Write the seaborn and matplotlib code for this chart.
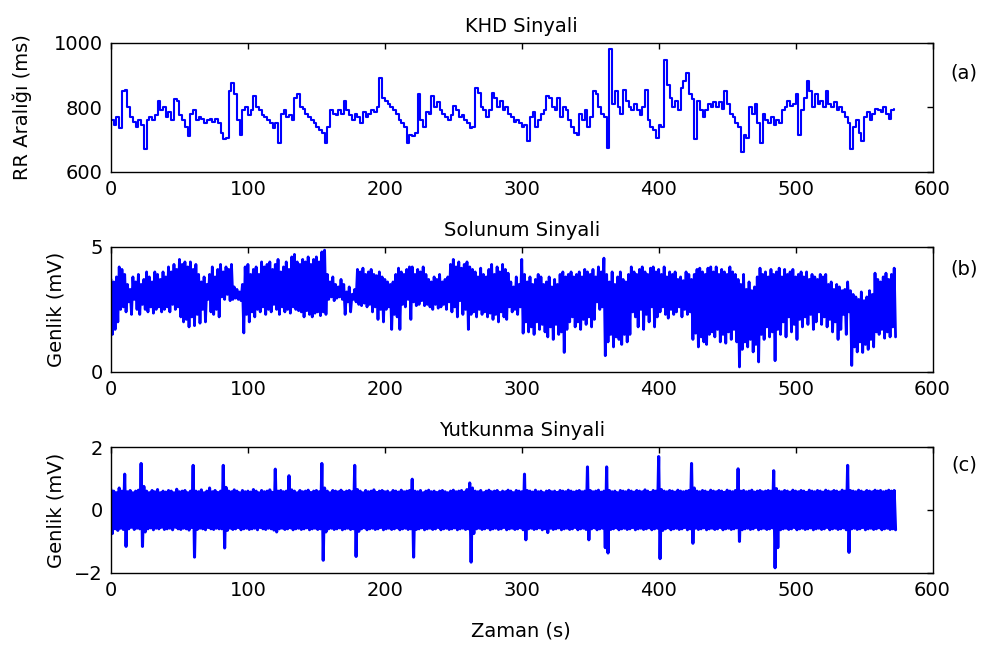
import numpy as np
import pandas as pd
import matplotlib
matplotlib.use("Agg")
import matplotlib.pyplot as plt
import seaborn as sns

# ---------------- data ----------------
# (a) RR interval (ms), one value every 2 s starting at t = 0
rr_ms = [
    760, 745, 770, 735, 850, 855, 800, 770, 755, 740,
    760, 745, 672, 760, 770, 760, 775, 820, 790, 800,
    770, 785, 760, 825, 820, 775, 760, 740, 710, 780,
    790, 760, 770, 765, 750, 760, 765, 755, 765, 750,
    720, 700, 705, 850, 875, 840, 760, 715, 790, 800,
    775, 790, 835, 800, 790, 775, 770, 760, 750, 735,
    750, 690, 780, 790, 770, 775, 760, 830, 840, 800,
    795, 780, 770, 760, 750, 740, 730, 720, 690, 740,
    790, 780, 775, 790, 780, 820, 790, 775, 760, 780,
    770, 750, 785, 770, 780, 790, 785, 800, 890, 830,
    820, 810, 800, 790, 780, 760, 750, 740, 690, 715,
    710, 720, 840, 760, 740, 785, 780, 835, 800, 815,
    790, 780, 770, 760, 775, 805, 790, 770, 775, 760,
    750, 735, 740, 860, 845, 800, 790, 770, 790, 845,
    830, 800, 820, 790, 800, 780, 770, 755, 760, 750,
    740, 745, 695, 770, 785, 740, 760, 780, 790, 835,
    830, 800, 790, 830, 770, 800, 790, 760, 740, 720,
    715, 780, 760, 790, 740, 770, 850, 840, 800, 780,
    770, 675, 982, 810, 850, 800, 780, 855, 820, 800,
    790, 810, 790, 775, 800, 855, 760, 740, 730, 705,
    745, 740, 945, 870, 830, 800, 820, 790, 860, 880,
    905, 840, 825, 700, 820, 790, 770, 790, 810, 800,
    815, 800, 815, 795, 850, 810, 780, 770, 750, 740,
    660, 715, 705, 800, 780, 810, 750, 690, 780, 760,
    750, 770, 745, 760, 750, 790, 800, 820, 805, 810,
    840, 715, 790, 830, 880, 850, 800, 840, 810, 820,
    800, 850, 810, 800, 815, 790, 800, 785, 770, 750,
    670, 740, 760, 720, 695, 770, 785, 760, 780, 795,
    790, 785, 800, 780, 765, 790, 795,
]

# (b) respiration: local maxima (even seconds) and minima (odd seconds), mV
resp_peaks = [
    3.7, 3.6, 3.8, 4.2, 4.1, 3.9, 3.5, 3.3, 3.8, 3.6,
    3.9, 3.5, 3.7, 4.0, 3.8, 3.6, 4.0, 3.9, 3.7, 4.0,
    3.8, 4.2, 4.0, 4.3, 4.1, 4.5, 4.3, 4.4, 4.2, 4.4,
    4.1, 4.3, 3.9, 3.6, 3.8, 3.5, 3.9, 4.2, 3.8, 4.1,
    4.3, 4.0, 4.2, 4.1, 4.3, 3.4, 3.3, 3.2, 3.5, 4.2,
    4.3, 3.9, 4.1, 4.2, 3.9, 4.4, 4.2, 4.3, 4.4, 4.1,
    4.3, 4.5, 4.0, 4.2, 4.4, 4.1, 4.6, 4.7, 4.4, 4.3,
    4.5, 4.4, 4.6, 4.3, 4.5, 4.6, 4.4, 4.8, 4.87, 3.9,
    3.6, 3.8, 3.5, 3.4, 3.7, 3.5, 3.2, 3.4, 3.1, 3.3,
    4.1, 4.0, 4.15, 3.9, 4.0, 4.1, 3.9, 3.85, 4.0, 3.8,
    3.7, 3.6, 3.5, 3.6, 3.9, 4.15, 4.0, 3.9, 4.1, 4.2,
    4.2, 3.9, 4.1, 4.0, 4.2, 3.9, 3.7, 3.6, 3.8, 3.7,
    3.9, 3.6, 3.7, 3.8, 4.3, 4.5, 4.2, 4.4, 4.15, 4.3,
    4.4, 4.2, 4.1, 4.0, 3.8, 4.15, 3.9, 3.8, 4.1, 4.3,
    3.9, 4.2, 4.0, 4.3, 4.1, 3.95, 3.6, 3.4, 3.8, 3.5,
    4.5, 3.9, 3.6, 3.8, 3.5, 3.7, 3.9, 3.8, 3.5, 3.6,
    3.8, 3.4, 3.7, 3.5, 3.9, 4.0, 3.8, 3.9, 4.0, 3.8,
    3.9, 4.0, 3.8, 4.1, 4.0, 3.9, 4.1, 3.8, 4.2, 4.0,
    4.55, 3.9, 3.6, 4.0, 3.5, 3.8, 4.0, 3.7, 3.6, 3.9,
    4.2, 4.0, 3.9, 4.1, 4.2, 4.0, 3.9, 4.15, 4.2, 4.0,
    4.1, 3.9, 4.2, 3.8, 4.0, 3.9, 4.0, 3.7, 3.8, 3.65,
    4.0, 3.9, 3.7, 3.9, 4.1, 4.15, 4.0, 3.9, 4.15, 4.2,
    4.0, 4.2, 3.9, 4.1, 4.0, 3.9, 4.2, 4.0, 3.9, 3.7,
    3.5, 3.9, 3.3, 3.6, 3.25, 3.4, 3.8, 4.15, 3.9, 4.0,
    3.8, 4.1, 3.9, 4.0, 4.15, 3.8, 4.1, 3.9, 4.0, 4.1,
    3.8, 3.9, 4.0, 3.8, 4.0, 3.7, 3.9, 3.8, 3.7, 3.9,
    3.8, 3.9, 3.5, 3.6, 3.3, 3.5, 3.4, 3.25, 3.3, 3.6,
    3.25, 3.1, 3.0, 2.9, 3.2, 2.85, 3.0, 3.25, 3.1, 3.95,
    3.7, 3.6, 3.8, 3.95, 3.7, 3.9, 4.15,
]
resp_troughs = [
    1.5, 1.7, 2.0, 2.5, 2.6, 2.4, 2.8, 2.3, 2.9, 2.5,
    2.3, 2.7, 2.5, 2.4, 2.6, 2.35, 2.5, 2.6, 2.4, 2.5,
    2.6, 2.4, 2.7, 2.5, 2.6, 2.2, 2.0, 2.1, 1.8, 2.2,
    1.85, 2.3, 1.95, 2.5, 2.0, 2.9, 2.4, 2.3, 2.5, 2.2,
    3.0, 2.9, 3.1, 2.85, 2.9, 2.95, 2.9, 2.85, 1.56, 2.3,
    2.0, 2.4, 2.2, 2.5, 2.4, 2.6, 2.3, 2.5, 2.4, 2.7,
    2.5, 2.3, 2.6, 2.4, 2.5, 2.35, 2.6, 2.5, 2.45, 2.4,
    2.2, 2.45, 2.3, 2.2, 2.35, 2.4, 2.25, 2.4, 2.3, 2.9,
    3.0, 2.85, 2.95, 3.0, 2.9, 2.3, 2.8, 2.4, 2.9, 2.8,
    2.7, 2.65, 2.75, 2.6, 2.7, 2.4, 2.6, 2.1, 2.5, 2.0,
    2.5, 2.6, 1.7, 2.3, 2.2, 1.7, 2.7, 2.6, 2.9, 2.1,
    2.8, 2.65, 2.7, 2.85, 2.65, 2.7, 2.6, 2.5, 2.7, 2.55,
    2.6, 2.7, 2.5, 2.8, 2.4, 2.6, 2.2, 2.85, 2.3, 2.5,
    1.7, 2.3, 2.4, 2.2, 2.5, 2.3, 2.4, 2.2, 2.35, 2.1,
    2.3, 2.0, 2.4, 2.2, 2.1, 2.6, 2.4, 2.5, 2.3, 2.6,
    1.55, 2.0, 1.6, 1.8, 1.5, 2.0, 1.7, 1.9, 1.6, 1.4,
    1.8, 1.3, 1.9, 1.5, 1.6, 0.78, 1.7, 2.0, 2.2, 1.8,
    2.0, 1.7, 2.1, 1.9, 2.2, 1.8, 2.1, 2.8, 2.5, 2.6,
    0.65, 1.2, 1.5, 1.0, 1.4, 1.3, 1.1, 1.5, 1.2, 1.5,
    2.4, 2.2, 1.8, 2.5, 1.7, 2.3, 2.0, 2.6, 1.8, 2.2,
    2.4, 2.6, 2.3, 2.15, 2.5, 2.3, 2.4, 2.6, 2.2, 2.5,
    2.3, 2.4, 1.3, 1.55, 1.0, 1.4, 1.2, 1.1, 1.5, 1.6,
    1.4, 1.7, 1.2, 1.5, 1.15, 1.6, 1.3, 1.7, 1.2, 0.2,
    0.9, 1.2, 1.0, 1.3, 0.8, 1.1, 0.4, 1.5, 1.3, 1.8,
    1.4, 1.6, 0.45, 1.7, 1.5, 2.0, 1.4, 2.2, 1.6, 1.9,
    1.3, 2.1, 1.8, 2.2, 1.9, 2.3, 1.7, 2.0, 2.4, 1.9,
    2.2, 1.8, 2.1, 1.6, 2.0, 1.3, 1.7, 2.3, 1.5, 2.4,
    0.26, 1.0, 0.8, 1.2, 0.78, 1.1, 0.9, 1.3, 1.0, 1.6,
    1.5, 1.7, 1.35, 1.6, 1.4, 1.8, 1.4,
]

# (c) swallowing: local maxima (even seconds) and minima (odd seconds), mV
swal_peaks = [
    0.65, 0.6, 0.55, 0.7, 0.6, 1.14, 0.58, 0.62, 0.55, 0.6,
    0.63, 1.48, 0.75, 0.6, 0.55, 0.62, 0.58, 0.65, 0.55, 0.6,
    0.57, 0.62, 0.6, 0.55, 0.66, 0.58, 0.6, 0.62, 0.55, 0.6,
    1.42, 0.6, 0.58, 0.64, 0.55, 0.6, 0.7, 0.58, 0.62, 0.56,
    0.6, 1.42, 0.72, 0.6, 0.58, 0.64, 0.6, 0.55, 0.62, 0.58,
    0.6, 0.57, 0.65, 0.6, 0.55, 0.62, 0.58, 0.6, 0.64, 0.56,
    1.3, 0.6, 0.62, 0.58, 0.6, 1.09, 0.64, 0.6, 0.55, 0.62,
    0.58, 0.6, 0.63, 0.56, 0.6, 0.62, 0.58, 1.48, 0.7, 0.6,
    0.55, 0.62, 0.6, 0.58, 0.63, 0.57, 0.6, 0.62, 0.58, 1.42,
    0.65, 0.6, 0.55, 0.62, 0.58, 0.6, 0.64, 0.56, 0.6, 0.62,
    0.58, 0.6, 0.55, 0.62, 0.6, 0.57, 0.63, 0.58, 0.6, 0.62,
    0.98, 0.6, 0.58, 0.62, 0.55, 0.6, 0.63, 0.58, 0.6, 0.56,
    0.6, 0.62, 0.58, 0.55, 0.6, 0.63, 0.58, 0.6, 0.62, 0.57,
    0.65, 0.86, 0.7, 0.6, 0.58, 0.62, 0.55, 0.6, 0.63, 0.58,
    0.6, 0.62, 0.56, 0.6, 0.58, 0.63, 0.6, 0.55, 0.62, 0.6,
    0.58, 1.14, 0.62, 0.6, 0.57, 0.63, 0.58, 0.6, 0.55, 0.6,
    0.62, 0.58, 0.6, 0.56, 0.62, 0.6, 0.58, 0.63, 0.6, 0.57,
    0.6, 0.62, 0.58, 0.6, 1.37, 0.62, 0.58, 0.6, 0.63, 0.57,
    0.6, 1.37, 0.62, 0.58, 0.6, 0.55, 0.62, 0.6, 0.58, 0.63,
    0.6, 0.57, 0.62, 0.6, 0.58, 0.64, 0.6, 0.56, 0.62, 0.6,
    1.7, 0.65, 0.6, 0.58, 0.62, 0.6, 0.57, 0.63, 0.6, 0.58,
    0.6, 0.62, 1.48, 0.7, 0.6, 0.58, 0.62, 0.6, 0.57, 0.63,
    0.6, 0.58, 0.62, 0.6, 0.56, 0.63, 0.6, 0.58, 0.62, 1.31,
    0.6, 0.62, 0.58, 0.6, 0.63, 0.57, 0.6, 0.62, 0.58, 0.6,
    0.62, 0.6, 1.25, 0.68, 0.6, 0.58, 0.62, 0.6, 0.57, 0.63,
    0.6, 0.58, 0.62, 0.6, 0.56, 0.63, 0.6, 0.58, 0.62, 0.6,
    0.57, 0.63, 0.6, 0.58, 0.62, 0.6, 0.57, 0.63, 0.6, 1.42,
    0.62, 0.6, 0.58, 0.63, 0.6, 0.57, 0.62, 0.6, 0.58, 0.63,
    0.6, 0.62, 0.58, 0.6, 0.63, 0.6, 0.62,
]
swal_troughs = [
    -0.75, -0.6, -0.65, -0.58, -0.62, -1.16, -0.6, -0.55, -0.62, -0.58,
    -0.6, -1.16, -0.7, -0.6, -0.57, -0.63, -0.58, -0.6, -0.55, -0.62,
    -0.6, -0.58, -0.63, -0.55, -0.6, -0.62, -0.58, -0.6, -0.64, -0.56,
    -1.5, -0.62, -0.58, -0.6, -0.63, -0.56, -0.6, -0.62, -0.58, -0.6,
    -0.6, -1.21, -0.65, -0.58, -0.62, -0.6, -0.56, -0.63, -0.6, -0.58,
    -0.62, -0.6, -0.58, -0.63, -0.56, -0.6, -0.62, -0.58, -0.6, -0.64,
    -0.7, -0.6, -0.58, -0.62, -0.6, -0.57, -0.63, -0.6, -0.58, -0.62,
    -0.6, -0.57, -0.63, -0.6, -0.58, -0.62, -0.6, -1.6, -0.7, -0.6,
    -0.58, -0.62, -0.6, -0.57, -0.63, -0.6, -0.58, -0.62, -0.6, -1.48,
    -0.68, -0.6, -0.57, -0.63, -0.6, -0.58, -0.62, -0.6, -0.56, -0.63,
    -0.6, -0.58, -0.62, -0.6, -0.57, -0.63, -0.6, -0.58, -0.62, -0.6,
    -1.5, -0.62, -0.6, -0.57, -0.63, -0.6, -0.58, -0.62, -0.6, -0.56,
    -0.63, -0.6, -0.58, -0.62, -0.6, -0.57, -0.63, -0.6, -0.58, -0.62,
    -0.6, -1.66, -0.75, -0.6, -0.58, -0.62, -0.6, -0.57, -0.63, -0.6,
    -0.58, -0.62, -0.6, -0.56, -0.63, -0.6, -0.58, -0.62, -0.6, -0.57,
    -0.63, -0.95, -0.6, -0.58, -0.62, -0.6, -0.57, -0.63, -0.6, -0.72,
    -0.58, -0.62, -0.6, -0.57, -0.63, -0.6, -0.58, -0.62, -0.6, -0.56,
    -0.63, -0.6, -0.58, -0.62, -0.95, -0.6, -0.57, -0.63, -0.6, -0.58,
    -1.2, -1.37, -0.62, -0.6, -0.57, -0.63, -0.6, -0.58, -0.62, -0.6,
    -0.56, -0.63, -0.6, -0.58, -0.62, -0.6, -0.57, -0.63, -0.6, -0.58,
    -1.55, -0.65, -0.6, -0.57, -0.63, -0.6, -0.58, -0.62, -0.6, -0.56,
    -0.63, -0.6, -1.06, -0.58, -0.62, -0.6, -0.57, -0.63, -0.6, -0.58,
    -0.62, -0.6, -0.56, -0.63, -0.6, -0.58, -0.62, -0.6, -0.57, -1.0,
    -0.63, -0.6, -0.58, -0.62, -0.6, -0.56, -0.63, -0.6, -0.58, -0.62,
    -0.6, -0.57, -1.84, -1.2, -0.63, -0.6, -0.58, -0.62, -0.6, -0.56,
    -0.63, -0.6, -0.58, -0.62, -0.6, -0.57, -0.63, -0.6, -0.58, -0.62,
    -0.6, -0.56, -0.63, -0.6, -0.58, -0.62, -0.6, -0.57, -0.63, -1.35,
    -0.6, -0.58, -0.62, -0.6, -0.56, -0.63, -0.6, -0.58, -0.62, -0.6,
    -0.57, -0.63, -0.6, -0.58, -0.62, -0.6, -0.63,
]

titles = ["KHD Sinyali", "Solunum Sinyali", "Yutkunma Sinyali"]
ylabels = ["RR Aralığı (ms)", "Genlik (mV)", "Genlik (mV)"]
panel_tags = ["(a)", "(b)", "(c)"]
xticks = [0, 100, 200, 300, 400, 500, 600]
yticks = [[600, 800, 1000], [0, 5], [-2, 0, 2]]
ylims = [(600, 1000), (0, 5), (-2, 2)]
xlabel = "Zaman (s)"


def interleave(peaks, troughs):
    y = np.empty(len(peaks) + len(troughs))
    y[0::2] = peaks
    y[1::2] = troughs
    return y


df_a = pd.DataFrame({"t": 2.0 * np.arange(len(rr_ms)), "v": rr_ms})
yb = interleave(resp_peaks, resp_troughs)
df_b = pd.DataFrame({"t": np.arange(len(yb), dtype=float), "v": yb})
yc = interleave(swal_peaks, swal_troughs)
df_c = pd.DataFrame({"t": np.arange(len(yc), dtype=float), "v": yc})

# ---------------- figure ----------------
sns.set_theme(style="white")
plt.rcParams["font.family"] = ["DejaVu Sans"]
for key in ["text.color", "axes.labelcolor", "xtick.color", "ytick.color",
            "axes.edgecolor"]:
    plt.rcParams[key] = "black"
plt.rcParams["axes.linewidth"] = 1.0

fig = plt.figure(figsize=(9.91, 6.48), dpi=100)
fs = 14

positions = [
    [0.112, 0.735, 0.829, 0.199],
    [0.112, 0.426, 0.829, 0.193],
    [0.112, 0.116, 0.829, 0.194],
]
frames = [df_a, df_b, df_c]
line_w = [1.5, 2.0, 2.2]
tag_y = [0.887, 0.585, 0.282]
label_x = [-0.096, -0.055, -0.055]

for i in range(3):
    ax = fig.add_axes(positions[i])
    kw = {"drawstyle": "steps-post"} if i == 0 else {}
    sns.lineplot(data=frames[i], x="t", y="v", ax=ax, color="#0000ff",
                 linewidth=line_w[i], estimator=None, sort=False, **kw)
    ax.set_xlim(0, 600)
    ax.set_ylim(*ylims[i])
    ax.set_xticks(xticks)
    ax.set_yticks(yticks[i])
    ax.tick_params(direction="in", top=True, right=True, length=4,
                   width=1, colors="black", labelsize=fs, pad=6)
    ax.set_title(titles[i], fontsize=fs, pad=8, color="black")
    ax.set_ylabel(ylabels[i], fontsize=fs, color="black")
    ax.yaxis.set_label_coords(label_x[i], 0.5)
    ax.set_xlabel("")
    for s in ax.spines.values():
        s.set_color("black")
        s.set_linewidth(1.0)
    fig.text(0.973, tag_y[i], panel_tags[i], fontsize=fs, ha="center",
             va="center", color="black")

fig.text(0.526, 0.026, xlabel, fontsize=fs, ha="center", va="center",
         color="black")

fig.savefig("out.png", dpi=100, facecolor="white")
